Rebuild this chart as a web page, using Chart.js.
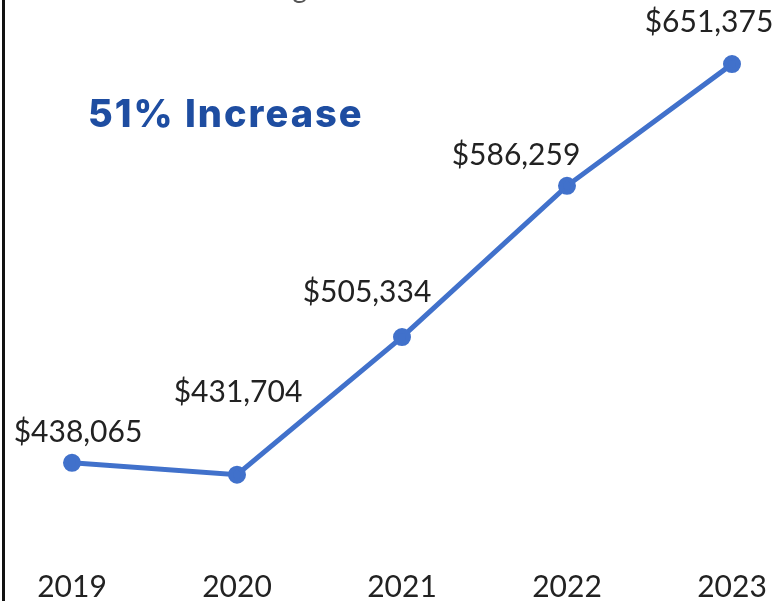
<!DOCTYPE html>
<html>
<head>
<meta charset="utf-8">
<script src="https://cdn.jsdelivr.net/npm/chart.js@4.4.0/dist/chart.umd.min.js"></script>
<style>
  html, body { margin: 0; padding: 0; background: #fff; }
  #wrap { position: relative; width: 777px; height: 601px; overflow: hidden; }
  #edge { position: absolute; left: 2px; top: 0; width: 3px; height: 601px; background: #111; }
</style>
</head>
<body>
<div id="wrap">
  <canvas id="salaryChart" width="777" height="601"></canvas>
  <div id="edge"></div>
</div>
<script>
const years = ['2019', '2020', '2021', '2022', '2023'];
const salaries = [438065, 431704, 505334, 586259, 651375];
const headline = '51% Increase';
const chartTitle = 'Average Household Income';

// nudges (px) that keep each value label clear of the line
const labelShiftX = [6, 1, -35, -51, -23];
const labelShiftY = [31, 82, 45, 31, 42];

const lineBlue = '#4171CB';

const valueLabels = {
  id: 'valueLabels',
  afterDatasetsDraw(chart) {
    const ctx = chart.ctx;
    const meta = chart.getDatasetMeta(0);
    ctx.save();
    ctx.font = '30px Lato';
    ctx.fillStyle = '#222';
    ctx.textAlign = 'center';
    ctx.textBaseline = 'middle';
    meta.data.forEach((pt, i) => {
      ctx.fillText('$' + salaries[i].toLocaleString('en-US'), pt.x + labelShiftX[i], pt.y - labelShiftY[i]);
    });

    // big headline
    ctx.font = '800 38px Inter';
    ctx.letterSpacing = '2px';
    ctx.fillStyle = '#1E4DA1';
    ctx.textAlign = 'left';
    ctx.textBaseline = 'alphabetic';
    ctx.fillText(headline, 88, 127);
    ctx.letterSpacing = '0px';

    // title runs off the top edge
    ctx.font = '28px Lato';
    ctx.fillStyle = '#555';
    ctx.fillText(chartTitle, 222, -2);
    ctx.restore();
  }
};

const ctx = document.getElementById('salaryChart').getContext('2d');
new Chart(ctx, {
  type: 'line',
  data: {
    labels: years,
    datasets: [{
      data: salaries,
      borderColor: lineBlue,
      backgroundColor: lineBlue,
      borderWidth: 5,
      pointRadius: 6.5,
      pointHoverRadius: 6.5,
      tension: 0
    }]
  },
  options: {
    responsive: false,
    animation: false,
    layout: {
      padding: { left: 72, right: 45, top: 48, bottom: 0 }
    },
    plugins: {
      legend: { display: false },
      tooltip: { enabled: false }
    },
    scales: {
      x: {
        offset: false,
        grid: { display: false, drawTicks: false },
        border: { display: false },
        ticks: {
          padding: 35,
          color: '#222',
          font: { family: 'Lato', size: 30 },
          maxRotation: 0
        },
        afterFit(scale) {
          // fixed axis band, and no extra side room for the end labels
          scale.height = 67;
          scale.paddingLeft = 0;
          scale.paddingRight = 0;
        }
      },
      y: {
        display: false,
        min: 400000,
        max: 660000
      }
    }
  },
  plugins: [valueLabels]
});
</script>
</body>
</html>
